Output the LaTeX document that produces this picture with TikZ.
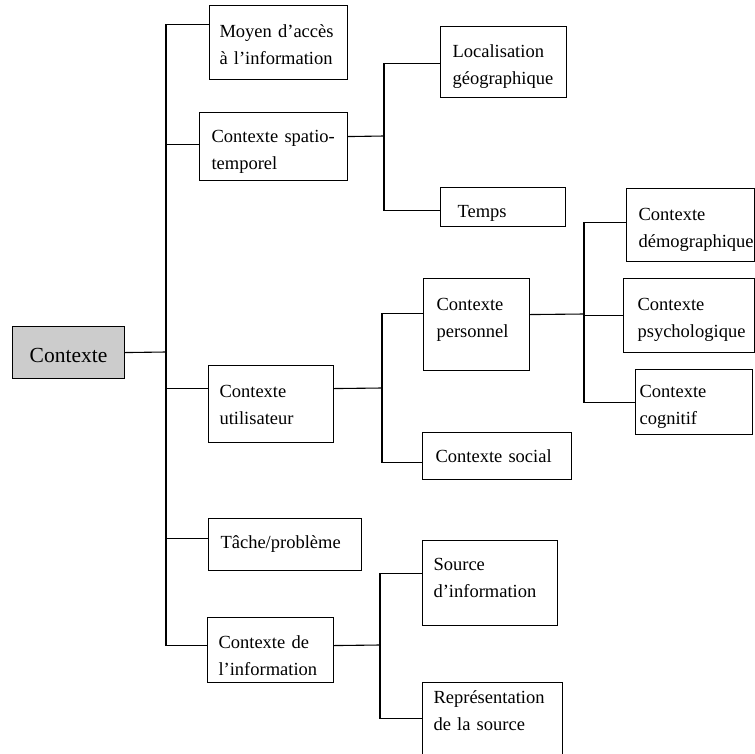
\documentclass[tikz,border=0pt]{standalone}
\usepackage{fontspec}
\setmainfont{Liberation Serif}
\hyphenpenalty=10000
\begin{document}
\begin{tikzpicture}[x=1pt,y=-1pt,
		boite/.style={draw,line width=1.1pt,anchor=north west,align=left,inner ysep=0pt,text depth=40pt,font=\fontsize{18.5}{27}\selectfont},
		lien/.style={line width=1.1pt}]
	\useasboundingbox (0,0) rectangle (755,753);
	\node[boite,fill=black!20,align=center,minimum width=112pt,minimum height=52pt,text height=30pt,text depth=10pt,font=\fontsize{21.5}{26}\selectfont] (racine) at (12,326) {Contexte};
	\node[boite,minimum width=138pt,minimum height=74pt,text width=118pt,inner xsep=10pt,text height=30pt] (moyen) at (209,5) {Moyen d'accès\\à l'information};
	\node[boite,minimum width=148pt,minimum height=68pt,text width=124pt,inner xsep=12pt,text height=26pt,text depth=34pt] (spatio) at (199,112) {Contexte spatio-\\temporel};
	\node[boite,minimum width=125pt,minimum height=77pt,text width=103pt,inner xsep=11pt,text height=27pt] (util) at (208,365) {Contexte\\utilisateur};
	\node[boite,minimum width=153pt,minimum height=52pt,text width=129pt,inner xsep=12pt,text height=18pt,text depth=10pt] (tache) at (208,518) {Tâche/problème};
	\node[boite,minimum width=126pt,minimum height=65pt,text width=104pt,inner xsep=11pt,text height=30pt,text depth=33pt] (info) at (207,617) {Contexte de\\l'information};
	\node[boite,minimum width=126pt,minimum height=71pt,text width=102pt,inner xsep=12pt,text height=29pt,text depth=38pt] (local) at (440,26) {Localisation\\géographique};
	\node[boite,minimum width=125pt,minimum height=39pt,text width=91pt,inner xsep=17pt,text height=28pt,text depth=7pt] (temps) at (440,187) {Temps};
	\node[boite,minimum width=106pt,minimum height=92pt,text width=80pt,inner xsep=13pt,text height=12pt] (perso) at (423,278) {Contexte\\personnel};
	\node[boite,minimum width=149pt,minimum height=47pt,text width=123pt,inner xsep=13pt,text height=23pt,text depth=10pt] (social) at (422,432) {Contexte social};
	\node[boite,minimum width=128pt,minimum height=73pt,text width=104pt,inner xsep=12pt,text height=31pt] (demo) at (626,188) {Contexte\\démographique};
	\node[boite,minimum width=131pt,minimum height=74pt,text width=103pt,inner xsep=14pt,text height=30pt] (psycho) at (623,278) {Contexte\\psychologique};
	\node[boite,minimum width=117pt,minimum height=65pt,text width=109pt,inner xsep=4pt,text height=23pt,text depth=32pt] (cogn) at (635,369) {Contexte\\cognitif};
	\node[boite,minimum width=135pt,minimum height=85pt,text width=113pt,inner xsep=11pt,text height=15pt] (source) at (422,540) {Source\\d'information};
	\node[boite,minimum width=140pt,minimum height=84pt,text width=118pt,inner xsep=11pt,text height=18pt,text depth=60pt] (repr) at (422,682) {Représentation\\de la source};
	\coordinate (t0) at (166,352);
	\coordinate (t1) at (384,136);
	\coordinate (t2) at (382,388);
	\coordinate (t3) at (584,314);
	\coordinate (t4) at (380,645);
	\draw[lien] (racine.east) -- (t0);
	\draw[lien] (t0) |- ([yshift=18pt]moyen.west);
	\draw[lien] (t0) |- ([yshift=2pt]spatio.west);
	\draw[lien] (t0) |- ([yshift=15.5pt]util.west);
	\draw[lien] (t0) |- ([yshift=6pt]tache.west);
	\draw[lien] (t0) |- ([yshift=4.5pt]info.west);
	\draw[lien] ([yshift=10pt]spatio.east) -- (t1);
	\draw[lien] (t1) |- ([yshift=-1.5pt]local.west);
	\draw[lien] (t1) |- ([yshift=-3.5pt]temps.west);
	\draw[lien] ([yshift=15.5pt]util.east) -- (t2);
	\draw[lien] (t2) |- ([yshift=11pt]perso.west);
	\draw[lien] (t2) |- ([yshift=-6.5pt]social.west);
	\draw[lien] ([yshift=10pt]perso.east) -- (t3);
	\draw[lien] (t3) |- ([yshift=2.5pt]demo.west);
	\draw[lien] (t3) |- (psycho.west);
	\draw[lien] (t3) |- (cogn.west);
	\draw[lien] ([yshift=4.5pt]info.east) -- (t4);
	\draw[lien] (t4) |- ([yshift=9.5pt]source.west);
	\draw[lien] (t4) |- ([yshift=6pt]repr.west);
\end{tikzpicture}
\end{document}
